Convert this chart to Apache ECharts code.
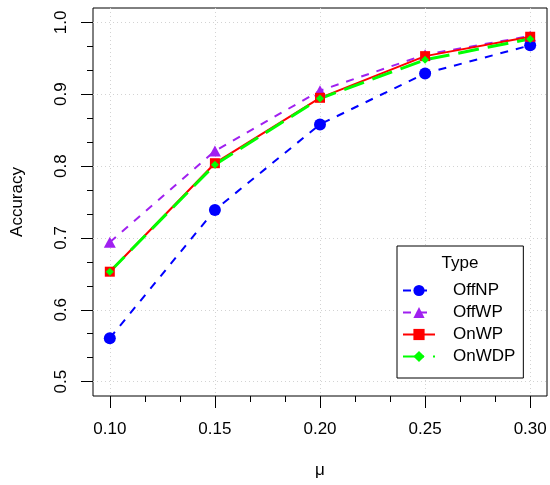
<!DOCTYPE html>
<html>
<head>
<meta charset="utf-8">
<script src="https://cdn.jsdelivr.net/npm/echarts@6/dist/echarts.min.js"></script>
<style>html,body{margin:0;padding:0;background:#fff}#c{width:550px;height:485px}</style>
</head>
<body>
<div id="c"></div>
<script>
var mu = [0.10, 0.15, 0.20, 0.25, 0.30];
var offNP = [0.5605, 0.739, 0.858, 0.929, 0.968];
var offWP = [0.694, 0.821, 0.905, 0.955, 0.981];
var onWP = [0.653, 0.804, 0.895, 0.953, 0.980];
var onWDP = [0.653, 0.802, 0.894, 0.948, 0.977];
var xTicks = [0.10, 0.15, 0.20, 0.25, 0.30];
var xMinorTicks = [0.1167, 0.1333, 0.1667, 0.1833, 0.2167, 0.2333, 0.2667, 0.2833];
var yTicks = [0.5, 0.6, 0.7, 0.8, 0.9, 1.0];
var yMinorTicks = [0.5333, 0.5667, 0.6333, 0.6667, 0.7333, 0.7667, 0.8333, 0.8667, 0.9333, 0.9667];

function pairs(ys) { return mu.map(function (x, i) { return [x, ys[i]]; }); }

var FONT = 'Liberation Sans, Arial, sans-serif';
var chart = echarts.init(document.getElementById('c'), null, {renderer: 'canvas'});
chart.setOption({
  animation: false,
  backgroundColor: '#ffffff',
  textStyle: {fontFamily: FONT},
  grid: {left: 93, top: 8, width: 454, height: 388, show: true, borderColor: '#000', borderWidth: 1, backgroundColor: 'transparent', containLabel: false},
  xAxis: [{
    type: 'value', min: 0.092, max: 0.308, position: 'bottom',
    name: 'μ', nameLocation: 'middle', nameGap: 66,
    nameTextStyle: {fontSize: 17, color: '#000', fontFamily: FONT},
    axisLine: {show: false},
    axisTick: {show: true, length: 12, customValues: xTicks, lineStyle: {color: '#000', width: 1}},
    axisLabel: {customValues: xTicks, margin: 25, fontSize: 17, color: '#000', fontFamily: FONT,
      formatter: function (v) { return v.toFixed(2); }},
    splitLine: {show: true, customValues: xTicks, lineStyle: {color: '#d3d3d3', type: [1, 3], width: 1}}
  }, {
    type: 'value', min: 0.092, max: 0.308, position: 'bottom',
    axisLine: {show: false},
    axisTick: {show: true, length: 6, customValues: xMinorTicks, lineStyle: {color: '#000', width: 1}},
    axisLabel: {show: false},
    splitLine: {show: false}
  }],
  yAxis: [{
    type: 'value', min: 0.48, max: 1.02, position: 'left',
    name: 'Accuracy', nameLocation: 'middle', nameGap: 67, nameRotate: 90,
    nameTextStyle: {fontSize: 17, color: '#000', fontFamily: FONT},
    axisLine: {show: false},
    axisTick: {show: true, length: 12, customValues: yTicks, lineStyle: {color: '#000', width: 1}},
    axisLabel: {customValues: yTicks, rotate: 90, margin: 23, fontSize: 17, color: '#000', fontFamily: FONT,
      formatter: function (v) { return v.toFixed(1); }},
    splitLine: {show: true, customValues: yTicks, lineStyle: {color: '#d3d3d3', type: [1, 3], width: 1}}
  }, {
    type: 'value', min: 0.48, max: 1.02, position: 'left',
    axisLine: {show: false},
    axisTick: {show: true, length: 6, customValues: yMinorTicks, lineStyle: {color: '#000', width: 1}},
    axisLabel: {show: false},
    splitLine: {show: false}
  }],
  legend: {
    orient: 'vertical', left: 397, top: 246,
    padding: [36, 8, 13, 5],
    borderColor: '#000', borderWidth: 1, borderRadius: 0, backgroundColor: '#fff',
    itemWidth: 32, itemHeight: 14, itemGap: 5,
    textStyle: {fontSize: 17, color: '#000', fontFamily: FONT, lineHeight: 17, padding: [0, 0, 0, 13]},
    data: ['OffNP', 'OffWP', 'OnWP', 'OnWDP']
  },
  graphic: [{
    type: 'text', x: 460, y: 263, z: 100,
    style: {text: 'Type', fontSize: 17, fontFamily: FONT, fill: '#000', textAlign: 'center', textVerticalAlign: 'middle'}
  }],
  series: [{
    name: 'OffNP', type: 'line', data: pairs(offNP),
    symbol: 'circle', symbolSize: 12,
    itemStyle: {color: '#0000ff'},
    lineStyle: {color: '#0000ff', width: 2, type: [8, 8]}
  }, {
    name: 'OffWP', type: 'line', data: pairs(offWP),
    symbol: 'triangle', symbolSize: [12, 11],
    itemStyle: {color: '#a020f0'},
    lineStyle: {color: '#a020f0', width: 2, type: [8, 8]}
  }, {
    name: 'OnWP', type: 'line', data: pairs(onWP),
    symbol: 'rect', symbolSize: 10,
    itemStyle: {color: '#ff0000'},
    lineStyle: {color: '#ff0000', width: 2, type: 'solid'}
  }, {
    name: 'OnWDP', type: 'line', data: pairs(onWDP),
    symbol: 'diamond', symbolSize: 8,
    itemStyle: {color: '#00ff00'},
    lineStyle: {color: '#00ff00', width: 3, type: [21, 9]}
  }]
});
</script>
</body>
</html>
